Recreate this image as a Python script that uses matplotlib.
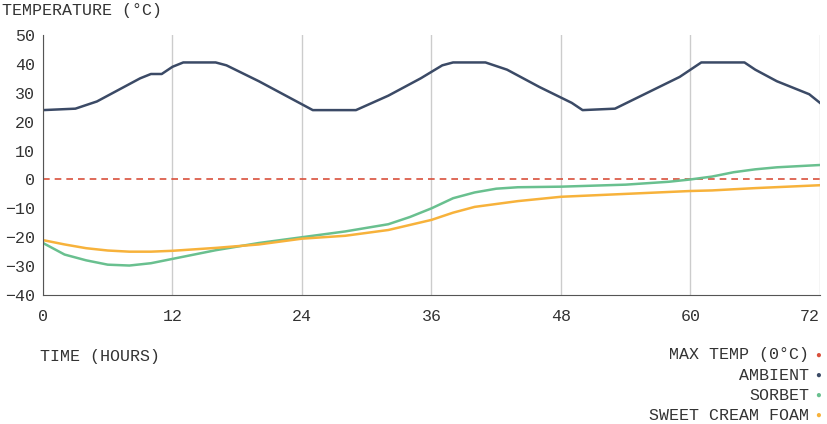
import matplotlib
matplotlib.use("Agg")
import matplotlib.pyplot as plt

hours_amb = [0,3,5,9,10,11,12,13,16,17,20,23,24,25,29,32,35,37,38,41,43,46,49,50,53,56,59,61,65,66,68,71,72]
ambient = [24,24.5,27,35,36.5,36.5,39,40.5,40.5,39.5,34,28,26,24,24,29,35,39.5,40.5,40.5,38,32,26.5,24,24.5,30,35.5,40.5,40.5,38,34,29.5,26.5]
hours_s = [0,2,4,6,8,10,12,16,20,24,28,32,34,36,38,40,42,44,48,54,58,60,62,64,66,68,72]
sorbet = [-22,-26,-28,-29.5,-29.8,-29,-27.5,-24.5,-22,-20,-18,-15.5,-13,-10,-6.5,-4.5,-3.2,-2.7,-2.5,-1.8,-0.8,0,1,2.5,3.5,4.2,5]
hours_f = [0,2,4,6,8,10,12,16,20,24,28,32,36,38,40,42,44,48,54,60,62,66,72]
foam = [-21,-22.5,-23.8,-24.6,-25,-25,-24.7,-23.7,-22.5,-20.5,-19.5,-17.5,-14,-11.5,-9.5,-8.5,-7.5,-6,-5,-4,-3.8,-3,-2]
xticks = [0,12,24,36,48,60,72]
yticks = list(range(-40,51,10))

plt.rcParams['font.family'] = ['Liberation Mono', 'DejaVu Sans Mono']
fig = plt.figure(figsize=(8.28,4.24), dpi=100)
ax = fig.add_axes([43/828, 1-295/424, (820-43)/828, 260/424])
c_amb, c_sor, c_foam, c_max = '#3b4a66', '#69c08f', '#f7b23b', '#d9503c'
ax.axhline(0, color=c_max, ls='--', lw=1.2, dashes=(4,3))
ax.plot(hours_amb, ambient, color=c_amb, lw=1.8)
ax.plot(hours_s, sorbet, color=c_sor, lw=1.8)
ax.plot(hours_f, foam, color=c_foam, lw=1.8)
ax.set_xlim(0,72); ax.set_ylim(-40,50)
ax.set_xticks(xticks); ax.set_yticks(yticks)
ax.grid(axis='x', color='#cccccc', lw=1)
for s in ['top','right']: ax.spines[s].set_visible(False)
for s in ['left','bottom']: ax.spines[s].set_color('#555555')
ax.tick_params(colors='#333333', labelsize=12, length=0, pad=6)
ax.tick_params(axis='x', pad=10)
xl = ax.get_xticklabels()
xl[-1].set_ha('right'); xl[-1].set_x(72)
fig.text(2/828, 1-10/424, 'TEMPERATURE (°C)', fontsize=12, color='#333333', va='center')
fig.text(40/828, 1-356/424, 'TIME (HOURS)', fontsize=12, color='#333333', va='center')
leg = [('MAX TEMP (0°C)', c_max), ('AMBIENT', c_amb), ('SORBET', c_sor), ('SWEET CREAM FOAM', c_foam)]
for i,(t,c) in enumerate(leg):
    y = 1-(355+20*i)/424
    fig.text(809/828, y, t, fontsize=12, color='#333333', ha='right', va='center')
    fig.text(818/828, y, '●', fontsize=7, color=c, ha='center', va='center')
fig.savefig('out.png', dpi=100)
